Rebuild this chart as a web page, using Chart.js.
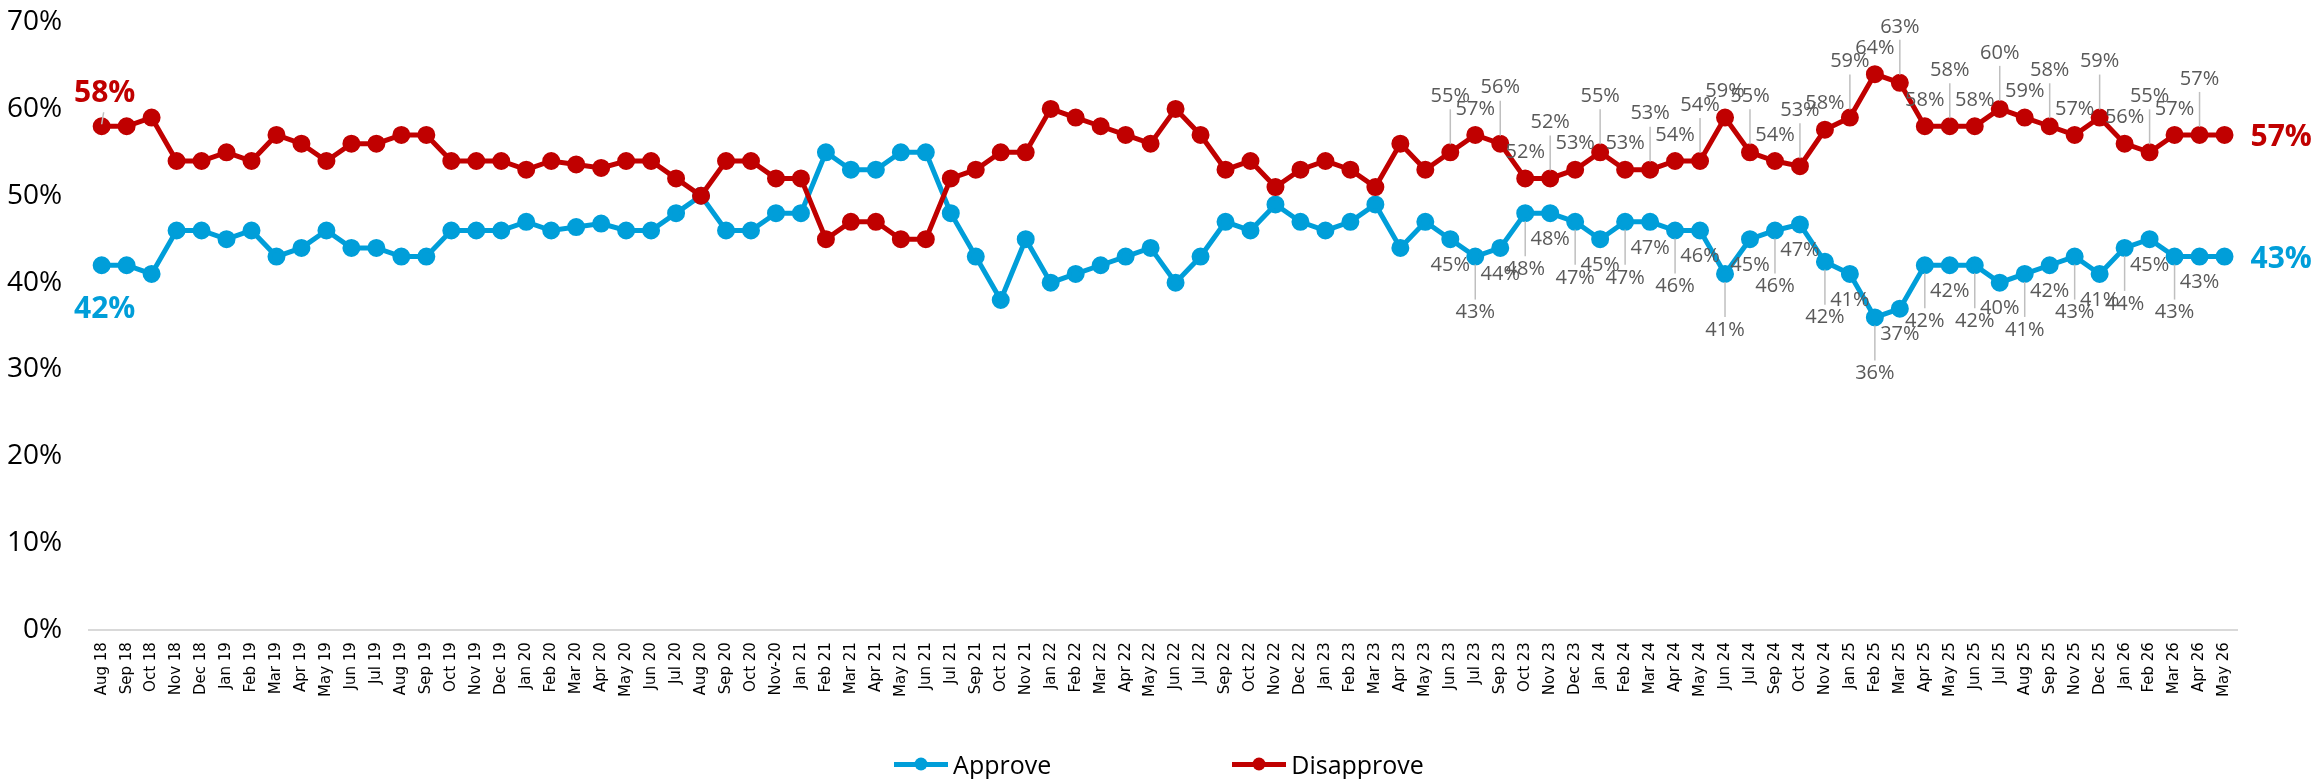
<!DOCTYPE html>
<html>
<head>
<meta charset="utf-8">
<title>Approve / Disapprove</title>
<script src="https://cdn.jsdelivr.net/npm/chart.js@4.4.1/dist/chart.umd.min.js"></script>
<style>
  html, body { margin: 0; padding: 0; background: #fff; }
  .chart-wrapper { position: relative; width: 2318px; height: 779px; }
  #legend {
    position: absolute; left: 0; top: 747px; width: 100%; height: 34px;
    display: flex; justify-content: center; align-items: center;
    font-family: "Open Sans", sans-serif; font-size: 25px; color: #000;
  }
  .legend-item { display: flex; align-items: center; }
  .legend-item + .legend-item { margin-left: 181px; }
  .swatch { position: relative; display: inline-block; width: 54px; height: 5px; margin-right: 5px; }
  .swatch i { position: absolute; left: 50%; top: 50%; width: 13px; height: 13px; border-radius: 50%; transform: translate(-50%, -50%); }
</style>
</head>
<body>
<div class="chart-wrapper">
  <canvas id="approvalChart"></canvas>
  <div id="legend"></div>
</div>
<script>
//months on the x axis
const months = [
  "Aug 18","Sep 18","Oct 18","Nov 18","Dec 18","Jan 19","Feb 19","Mar 19","Apr 19","May 19",
  "Jun 19","Jul 19","Aug 19","Sep 19","Oct 19","Nov 19","Dec 19","Jan 20","Feb 20","Mar 20",
  "Apr 20","May 20","Jun 20","Jul 20","Aug 20","Sep 20","Oct 20","Nov-20","Jan 21","Feb 21",
  "Mar 21","Apr 21","May 21","Jun 21","Jul 21","Sep 21","Oct 21","Nov 21","Jan 22","Feb 22",
  "Mar 22","Apr 22","May 22","Jun 22","Jul 22","Sep 22","Oct 22","Nov 22","Dec 22","Jan 23",
  "Feb 23","Mar 23","Apr 23","May 23","Jun 23","Jul 23","Sep 23","Oct 23","Nov 23","Dec 23",
  "Jan 24","Feb 24","Mar 24","Apr 24","May 24","Jun 24","Jul 24","Sep 24","Oct 24","Nov 24",
  "Jan 25","Feb 25","Mar 25","Apr 25","May 25","Jun 25","Jul 25","Aug 25","Sep 25","Nov 25",
  "Dec 25","Jan 26","Feb 26","Mar 26","Apr 26","May 26"
];

//approve (%)
const approve = [
  42, 42, 41, 46, 46, 45, 46, 43, 44, 46,
  44, 44, 43, 43, 46, 46, 46, 47, 46, 46.4,
  46.8, 46, 46, 48, 50, 46, 46, 48, 48, 55,
  53, 53, 55, 55, 48, 43, 38, 45, 40, 41,
  42, 43, 44, 40, 43, 47, 46, 49, 47, 46,
  47, 49, 44, 47, 45, 43, 44, 48, 48, 47,
  45, 47, 47, 46, 46, 41, 45, 46, 46.7, 42.4,
  41, 36, 37, 42, 42, 42, 40, 41, 42, 43,
  41, 44, 45, 43, 43, 43
];

//disapprove (%)
const disapprove = [
  58, 58, 59, 54, 54, 55, 54, 57, 56, 54,
  56, 56, 57, 57, 54, 54, 54, 53, 54, 53.6,
  53.2, 54, 54, 52, 50, 54, 54, 52, 52, 45,
  47, 47, 45, 45, 52, 53, 55, 55, 60, 59,
  58, 57, 56, 60, 57, 53, 54, 51, 53, 54,
  53, 51, 56, 53, 55, 57, 56, 52, 52, 53,
  55, 53, 53, 54, 54, 59, 55, 54, 53.4, 57.6,
  59, 64, 63, 58, 58, 58, 60, 59, 58, 57,
  59, 56, 55, 57, 57, 57
];

//y axis ticks
const yTicks = [0, 10, 20, 30, 40, 50, 60, 70];

//small grey value labels are shown from this month on
const labelFrom = months.indexOf("Jun 23");

const BLUE = "#009ED9";
const RED = "#C00000";
const LABEL_GREY = "#595959";
const LEADER_GREY = "#BFBFBF";
const FONT = "'Open Sans', sans-serif";

//draws the value labels (first / last in bold, the rest small and grey)
const valueLabels = {
  id: "valueLabels",
  afterDatasetsDraw(chart) {
    const ctx = chart.ctx;
    ctx.save();
    chart.data.datasets.forEach((ds, di) => {
      const meta = chart.getDatasetMeta(di);
      const dir = ds.label === "Disapprove" ? -1 : 1;
      const last = ds.data.length - 1;

      meta.data.forEach((pt, i) => {
        const text = Math.round(ds.data[i]) + "%";

        //first point, bold label above / below
        if (i === 0) {
          const dist = dir < 0 ? 33 : 44;
          if (dir < 0) {
            ctx.strokeStyle = LEADER_GREY;
            ctx.lineWidth = 1.5;
            ctx.beginPath();
            ctx.moveTo(pt.x, pt.y - 2);
            ctx.lineTo(pt.x + 2, pt.y - 14);
            ctx.stroke();
          }
          ctx.font = "bold 30px " + FONT;
          ctx.fillStyle = ds.borderColor;
          ctx.textAlign = "center";
          ctx.textBaseline = "middle";
          ctx.fillText(text, pt.x + 3, pt.y + dir * dist);
          return;
        }

        //last point, bold label to the right
        if (i === last) {
          ctx.font = "bold 30px " + FONT;
          ctx.fillStyle = ds.borderColor;
          ctx.textAlign = "left";
          ctx.textBaseline = "middle";
          ctx.fillText(text, pt.x + 26, pt.y + 3);
          return;
        }

        if (i < labelFrom) return;

        //alternate near / far so neighbours overlap less
        const far = (i + di) % 2 === 1;
        const dist = far ? 56 : 26;
        const ly = pt.y + dir * dist;
        if (far) {
          ctx.strokeStyle = LEADER_GREY;
          ctx.lineWidth = 1.5;
          ctx.beginPath();
          ctx.moveTo(pt.x, pt.y + dir * 8);
          ctx.lineTo(pt.x, ly - dir * 13);
          ctx.stroke();
        }
        ctx.font = "20px " + FONT;
        ctx.fillStyle = LABEL_GREY;
        ctx.textAlign = "center";
        ctx.textBaseline = "middle";
        ctx.fillText(text, pt.x, ly);
      });
    });
    ctx.restore();
  }
};

function buildChart() {
  const canvas = document.getElementById("approvalChart");
  const ctx = canvas.getContext("2d");

  return new Chart(ctx, {
    type: "line",
    data: {
      labels: months,
      datasets: [
        {
          label: "Approve",
          data: approve,
          borderColor: BLUE,
          backgroundColor: BLUE,
          borderWidth: 5,
          pointRadius: 6.5,
          pointHoverRadius: 6.5,
          tension: 0,
          order: 1
        },
        {
          label: "Disapprove",
          data: disapprove,
          borderColor: RED,
          backgroundColor: RED,
          borderWidth: 5,
          pointRadius: 6.5,
          pointHoverRadius: 6.5,
          tension: 0,
          order: 0
        }
      ]
    },
    options: {
      responsive: true,
      maintainAspectRatio: false,
      animation: false,
      layout: {
        padding: { top: 22, left: 7, right: 81, bottom: 70 }
      },
      plugins: {
        legend: { display: false },
        tooltip: { enabled: false }
      },
      scales: {
        x: {
          offset: true,
          grid: { display: false, drawTicks: false },
          border: { display: true, color: "#D9D9D9", width: 2 },
          ticks: {
            autoSkip: false,
            maxRotation: 90,
            minRotation: 90,
            padding: 12,
            color: "#000",
            font: { family: "'DejaVu Sans', sans-serif", size: 15 }
          }
        },
        y: {
          min: yTicks[0],
          max: yTicks[yTicks.length - 1],
          afterBuildTicks: (axis) => {
            axis.ticks = yTicks.map(v => ({ value: v }));
          },
          //hidden tick marks keep the gap between labels and plot
          grid: { display: false, drawTicks: true, tickLength: 27 },
          border: { display: false },
          ticks: {
            padding: 0,
            color: "#000",
            font: { family: FONT, size: 28 },
            callback: (v) => v + "%"
          }
        }
      }
    },
    plugins: [valueLabels]
  });
}

//html legend built from the datasets
function buildLegend(chart) {
  const box = document.getElementById("legend");
  chart.data.datasets.forEach(ds => {
    const item = document.createElement("div");
    item.className = "legend-item";
    const sw = document.createElement("span");
    sw.className = "swatch";
    sw.style.background = ds.borderColor;
    const dot = document.createElement("i");
    dot.style.background = ds.borderColor;
    sw.appendChild(dot);
    const txt = document.createElement("span");
    txt.textContent = ds.label;
    item.appendChild(sw);
    item.appendChild(txt);
    box.appendChild(item);
  });
}

const approvalChart = buildChart();
buildLegend(approvalChart);
</script>
</body>
</html>
